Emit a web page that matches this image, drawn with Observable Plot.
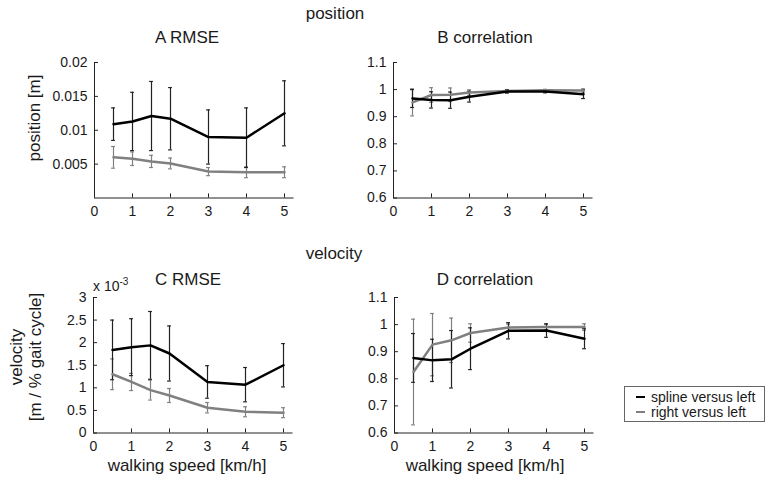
<!DOCTYPE html>
<html>
<head>
<meta charset="utf-8">
<script src="https://cdn.jsdelivr.net/npm/d3@7"></script>
<script src="https://cdn.jsdelivr.net/npm/@observablehq/plot@0.6"></script>
<style>
  body { margin: 0; background: #fff; }
  #fig { position: relative; width: 766px; height: 481px; overflow: hidden; background: #fff;
         font-family: "Liberation Sans", Arial, sans-serif; color: #1a1a1a; }
  #fig svg { position: absolute; left: 0; top: 0; }
  .t { position: absolute; white-space: nowrap; font-size: 17px; line-height: 1; transform: translateX(-50%); }
  .r { position: absolute; white-space: nowrap; font-size: 17px; line-height: 19px; text-align: center;
       transform: translate(-50%, -50%) rotate(-90deg); }
  .exp { position: absolute; white-space: nowrap; font-size: 14px; line-height: 1; }
  .exp span { font-size: 10px; position: relative; top: -6px; }
  .legend { position: absolute; left: 624px; top: 386px; width: 141px; height: 36px; border: 1px solid #666;
            font-size: 14px; line-height: 15px; padding: 3px 0 0 11px; box-sizing: border-box; background: #fff; }
  .legend div { white-space: nowrap; }
  .legend i { display: inline-block; width: 9px; height: 2px; vertical-align: 4px; margin-right: 6px; }
</style>
</head>
<body>
<div id="fig"></div>
<script>
// ---------- data ----------
const speeds = [0.5, 1, 1.5, 2, 3, 4, 5];
const xTicks = [0, 1, 2, 3, 4, 5];
const seriesNames = ["spline versus left", "right versus left"];

// A: position RMSE [m]
const posRmseSplineMean = [0.0109, 0.0113, 0.0121, 0.0117, 0.0090, 0.0089, 0.0125];
const posRmseSplineSd   = [0.0024, 0.0043, 0.0051, 0.0046, 0.0040, 0.0044, 0.0048];
const posRmseRightMean  = [0.0060, 0.0058, 0.0054, 0.0051, 0.0039, 0.0038, 0.0038];
const posRmseRightSd    = [0.0016, 0.0010, 0.0009, 0.0008, 0.0006, 0.0008, 0.0008];
const posRmseTicks = [0.005, 0.01, 0.015, 0.02];

// B: position correlation
const posCorrSplineMean = [0.967, 0.962, 0.961, 0.974, 0.993, 0.993, 0.983];
const posCorrSplineSd   = [0.033, 0.030, 0.030, 0.020, 0.006, 0.005, 0.016];
const posCorrRightMean  = [0.953, 0.980, 0.981, 0.989, 0.995, 0.998, 0.997];
const posCorrRightSd    = [0.050, 0.027, 0.025, 0.010, 0.005, 0.003, 0.006];
const corrTicks = [0.6, 0.7, 0.8, 0.9, 1, 1.1];

// C: velocity RMSE [x 10^-3 m / % gait cycle]
const velRmseSplineMean = [1.84, 1.90, 1.94, 1.76, 1.13, 1.07, 1.50];
const velRmseSplineSd   = [0.66, 0.63, 0.75, 0.61, 0.36, 0.38, 0.48];
const velRmseRightMean  = [1.30, 1.13, 0.95, 0.83, 0.56, 0.47, 0.45];
const velRmseRightSd    = [0.34, 0.19, 0.22, 0.155, 0.115, 0.11, 0.11];
const velRmseTicks = [0, 0.5, 1, 1.5, 2, 2.5, 3];

// D: velocity correlation
const velCorrSplineMean = [0.877, 0.868, 0.872, 0.911, 0.977, 0.978, 0.948];
const velCorrSplineSd   = [0.090, 0.078, 0.106, 0.077, 0.030, 0.025, 0.037];
const velCorrRightMean  = [0.825, 0.926, 0.942, 0.969, 0.989, 0.991, 0.991];
const velCorrRightSd    = [0.195, 0.115, 0.082, 0.034, 0.013, 0.010, 0.012];

// ---------- helpers ----------
const colors = {"spline versus left": "#000000", "right versus left": "#808080"};
const barColors = {"spline versus left": "#222222", "right versus left": "#808080"};

function rows(name, means, sds) {
  return speeds.map((x, i) => ({series: name, x, y: means[i], lo: means[i] - sds[i], hi: means[i] + sds[i]}));
}

const W = 766, H = 481;
const fig = document.getElementById("fig");

function panel({frame, yDomain, yTicks, spline, right}) {
  const [left, right_, top, bottom] = frame;
  const [y0, y1] = yDomain;
  const xMax = 5.25;
  const tickLenY = (y1 - y0) * 0.03;
  const tickLenX = xMax * 0.02;
  const cap = 0.05;
  const series = [right, spline];
  const marks = [
    Plot.ruleX([0], {stroke: "#222", strokeWidth: 1}),
    Plot.ruleY([y0], {stroke: "#222", strokeWidth: 1}),
    Plot.ruleX(xTicks, {x: d => d, y1: y0, y2: y0 + tickLenY, stroke: "#222"}),
    Plot.ruleY(yTicks, {y: d => d, x1: 0, x2: tickLenX, stroke: "#222"})
  ];
  for (const s of series) {
    const c = barColors[s[0].series];
    marks.push(
      Plot.ruleX(s, {x: "x", y1: "lo", y2: "hi", stroke: c, strokeWidth: 1.2}),
      Plot.ruleY(s, {y: "lo", x1: d => d.x - cap, x2: d => d.x + cap, stroke: c, strokeWidth: 1.2}),
      Plot.ruleY(s, {y: "hi", x1: d => d.x - cap, x2: d => d.x + cap, stroke: c, strokeWidth: 1.2})
    );
  }
  for (const s of series) {
    marks.push(Plot.line(s, {x: "x", y: "y", stroke: colors[s[0].series], strokeWidth: 2.5}));
  }
  const svg = Plot.plot({
    width: W, height: H,
    marginLeft: left, marginRight: W - right_, marginTop: top, marginBottom: H - bottom,
    style: {fontFamily: "'Liberation Sans', Arial, sans-serif", fontSize: "14px", background: "transparent", color: "#1a1a1a", overflow: "visible"},
    x: {domain: [0, xMax], ticks: xTicks, tickSize: 0, tickPadding: 8, label: null, tickFormat: d => String(d)},
    y: {domain: yDomain, ticks: yTicks, tickSize: 0, tickPadding: 7, label: null, tickFormat: d => String(d)},
    marks
  });
  fig.appendChild(svg);
}

panel({frame: [94, 293.5, 62, 197.5], yDomain: [0, 0.02], yTicks: posRmseTicks,
  spline: rows(seriesNames[0], posRmseSplineMean, posRmseSplineSd),
  right: rows(seriesNames[1], posRmseRightMean, posRmseRightSd)});
panel({frame: [393, 592.5, 62, 197.5], yDomain: [0.6, 1.1], yTicks: corrTicks,
  spline: rows(seriesNames[0], posCorrSplineMean, posCorrSplineSd),
  right: rows(seriesNames[1], posCorrRightMean, posCorrRightSd)});
panel({frame: [93, 292.5, 297, 432.5], yDomain: [0, 3], yTicks: velRmseTicks,
  spline: rows(seriesNames[0], velRmseSplineMean, velRmseSplineSd),
  right: rows(seriesNames[1], velRmseRightMean, velRmseRightSd)});
panel({frame: [394, 593.5, 297, 432.5], yDomain: [0.6, 1.1], yTicks: corrTicks,
  spline: rows(seriesNames[0], velCorrSplineMean, velCorrSplineSd),
  right: rows(seriesNames[1], velCorrRightMean, velCorrRightSd)});

// ---------- texts ----------
function text(cls, html, left, top) {
  const d = document.createElement("div");
  d.className = cls; d.innerHTML = html;
  d.style.left = left + "px"; d.style.top = top + "px";
  fig.appendChild(d);
}
text("t", "position", 335, 4.5);
text("t", "A RMSE", 187, 29);
text("t", "B correlation", 485, 29);
text("t", "velocity", 334, 245);
text("t", "C RMSE", 188, 271);
text("t", "D correlation", 485, 270.5);
text("t", "walking speed [km/h]", 187, 457);
text("t", "walking speed [km/h]", 485, 457);
text("r", "position [m]", 34, 118);
text("r", "velocity<br>[m / % gait cycle]", 26, 357);
text("exp", "x 10<span>-3</span>", 93, 279);

const lg = document.createElement("div");
lg.className = "legend";
lg.innerHTML = seriesNames.map(n => `<div><i style="background:${colors[n]}"></i>${n}</div>`).join("");
fig.appendChild(lg);
</script>
</body>
</html>
